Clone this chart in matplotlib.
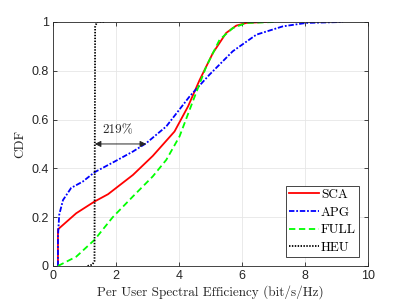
import matplotlib
matplotlib.use("Agg")
import matplotlib.pyplot as plt

# Data
sca_x = [0.16, 0.16, 0.16, 0.74, 1.32, 1.75, 2.54, 3.17, 3.86, 4.29, 4.66, 5.08, 5.50, 5.82, 6.14, 6.77]
sca_y = [0.0, 0.10, 0.15, 0.216, 0.264, 0.294, 0.373, 0.451, 0.551, 0.654, 0.763, 0.873, 0.955, 0.985, 0.996, 1.0]

apg_x = [0.16, 0.16, 0.20, 0.32, 0.58, 0.95, 1.32, 1.96, 2.54, 2.96, 3.60, 4.34, 4.97, 5.71, 6.46, 7.30, 8.04, 9.21]
apg_y = [0.0, 0.12, 0.21, 0.27, 0.32, 0.346, 0.384, 0.428, 0.469, 0.503, 0.572, 0.695, 0.784, 0.880, 0.948, 0.982, 0.996, 1.0]

full_x = [0.16, 0.74, 1.32, 1.90, 2.54, 3.17, 3.60, 4.02, 4.44, 4.87, 5.29, 5.71, 6.14, 7.09]
full_y = [0.0, 0.038, 0.107, 0.20, 0.285, 0.367, 0.435, 0.531, 0.674, 0.818, 0.927, 0.975, 0.996, 1.0]

heu_x = [1.10, 1.25, 1.32, 1.33, 1.34, 1.40, 1.64]
heu_y = [0.0, 0.005, 0.02, 0.5, 0.98, 1.0, 1.0]

series_labels = ["SCA", "APG", "FULL", "HEU"]
x_ticks = [0, 2, 4, 6, 8, 10]
y_ticks = [0, 0.2, 0.4, 0.6, 0.8, 1]
y_tick_labels = ["0", "0.2", "0.4", "0.6", "0.8", "1"]
gap_start, gap_end, gap_level = 1.33, 2.96, 0.5
gap_text = "219%"

serif = ["cmr10", "DejaVu Serif"]

fig = plt.figure(figsize=(4.07, 3.05), dpi=100)
ax = fig.add_axes([0.130, 0.128, 0.774, 0.800])

ax.plot(sca_x, sca_y, color="#ff0000", lw=1.3, ls="-", label=series_labels[0])
ax.plot(apg_x, apg_y, color="#0000ff", lw=1.3, ls=(0, (3, 1, 1, 1)), label=series_labels[1])
ax.plot(full_x, full_y, color="#00ff00", lw=1.3, ls=(0, (3.5, 2)), label=series_labels[2])
ax.plot(heu_x, heu_y, color="#000000", lw=1.3, ls=(0, (0.8, 0.8)), label=series_labels[3])

ax.annotate("", xy=(gap_start, gap_level), xytext=(gap_end, gap_level),
            arrowprops=dict(arrowstyle="<|-|>", color="#262626", lw=0.7,
                            mutation_scale=9, shrinkA=0, shrinkB=0))
ax.text((gap_start + gap_end) / 2 - 0.1, gap_level + 0.03, gap_text,
        family=serif, fontsize=9.5, ha="center", va="bottom", color="#262626")

ax.set_xlim(0, 10)
ax.set_ylim(0, 1)
ax.set_xticks(x_ticks)
ax.set_yticks(y_ticks)
ax.set_yticklabels(y_tick_labels)
ax.tick_params(direction="in", length=3, width=0.6, labelsize=9, colors="#262626",
               top=True, right=True, pad=3)
for lab in ax.get_xticklabels() + ax.get_yticklabels():
    lab.set_family(["Liberation Sans", "DejaVu Sans"])
for s in ax.spines.values():
    s.set_color("#262626")
    s.set_linewidth(0.6)
ax.grid(True, color="#e6e6e6", lw=0.6)
ax.set_axisbelow(True)

ax.set_xlabel("Per User Spectral Efficiency (bit/s/Hz)", family=serif, fontsize=9.5,
              color="#262626", labelpad=2)
ax.set_ylabel("CDF", family=serif, fontsize=9.5, color="#262626", labelpad=4)

leg = ax.legend(loc="lower right", prop={"family": serif, "size": 9.5},
                frameon=True, fancybox=False, edgecolor="#262626", framealpha=1,
                handlelength=2.3, handletextpad=0.15, borderpad=0.2,
                labelspacing=0.42, borderaxespad=0.7)
leg.get_frame().set_linewidth(0.6)

fig.savefig("out.png", dpi=100)
